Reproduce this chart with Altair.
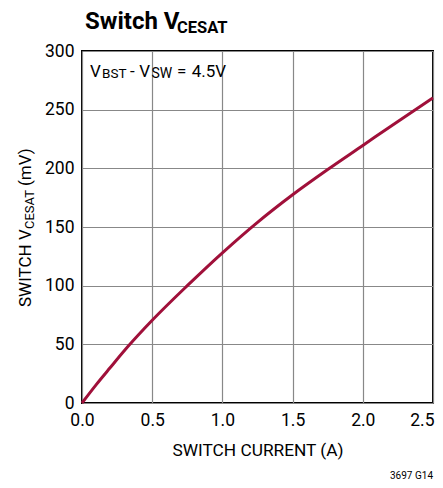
import altair as alt
import pandas as pd

current = [0.0, 0.1, 0.2, 0.33, 0.5, 0.75, 1.0, 1.25, 1.5, 1.75, 2.0, 2.25, 2.5]
vcesat = [0, 15.5, 30, 48.5, 70.5, 100, 128, 154, 177.5, 199, 219.5, 240, 260]

x_ticks = [0.0, 0.5, 1.0, 1.5, 2.0, 2.5]
y_ticks = [0, 50, 100, 150, 200, 250, 300]

FONT = "Roboto, sans-serif"
RED = "#A0103A"
W, H = 351, 352

df = pd.DataFrame({"I": current, "V": vcesat})
one = pd.DataFrame({"d": [0]})

line = alt.Chart(df).mark_line(color=RED, strokeWidth=3, interpolate="monotone").encode(
    x=alt.X("I:Q", scale=alt.Scale(domain=[0, 2.5], nice=False),
            axis=alt.Axis(values=x_ticks, format=".1f", title="SWITCH CURRENT (A)",
                          titleY=52, titleBaseline="alphabetic", labelFlush=False,
                          labelAlign={"condition": {"test": "datum.value >= 2.5", "value": "right"},
                                      "value": "center"},
                          labelOffset={"condition": {"test": "datum.value >= 2.5", "value": 1},
                                       "value": 0})),
    y=alt.Y("V:Q", scale=alt.Scale(domain=[0, 300], nice=False),
            axis=alt.Axis(values=y_ticks, title=None, labelFlush=False)),
)


def txt(s, x, y, size, weight="normal", align="left", angle=0, baseline="alphabetic"):
    kw = dict(text=s, font=FONT, fontSize=size, fontWeight=weight, align=align,
              baseline=baseline, color="black")
    if angle:
        kw["angle"] = angle
    return alt.Chart(one).mark_text(**kw).encode(x=alt.value(x), y=alt.value(y))


texts = [
    # title
    txt("Switch V", 3, -22, 24, "bold"),
    txt("CESAT", 95, -18.5, 16.5, "bold"),
    # annotation
    txt("V", 8, 25.7, 17),
    txt("BST", 20, 27.3, 13.5),
    txt("-", 48, 25.7, 17),
    txt("V", 57.3, 25.7, 17),
    txt("SW", 69.5, 27.3, 14),
    txt("=", 95, 25.7, 17),
    txt("4.5V", 109.7, 25.7, 17),
    # y title
    txt("SWITCH V", -51, 256, 17, angle=270),
    txt("CESAT", -48, 178, 13, angle=270),
    txt("(mV)", -51, 135, 17, angle=270),
    # footnote
    txt("3697 G14", 351, 428, 10, align="right"),
]

chart = alt.layer(line, *texts).properties(
    width=W, height=H,
    autosize=alt.AutoSizeParams(type="none"),
    padding={"left": 74, "top": 43, "right": 2, "bottom": 77},
).configure_view(
    stroke="black", strokeWidth=2
).configure_axis(
    labelFont=FONT, titleFont=FONT, labelFontSize=17.5, titleFontSize=17.3,
    titleFontWeight="normal", labelColor="black", titleColor="black",
    ticks=False, domain=False, grid=True, gridColor="#888888", gridWidth=1.2,
    gridOpacity=1,
).configure_axisX(
    labelPadding=8,
).configure_axisY(
    labelPadding=8,
)

chart.save("out.html", embed_options={"renderer": "svg", "actions": False})
